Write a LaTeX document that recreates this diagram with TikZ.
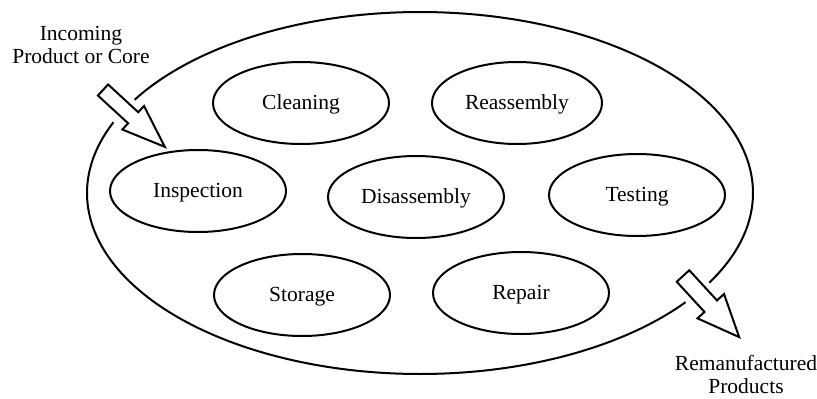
\documentclass[tikz,border=0pt]{standalone}
\usepackage{fontspec}
\setmainfont{Liberation Serif}
\usetikzlibrary{shapes.geometric}

\tikzset{
  stage/.style={draw, ellipse, line width=2pt, inner sep=0pt,
    minimum width=176pt, minimum height=82pt,
    text height=15pt, text depth=2pt},
  label/.style={align=center, inner sep=0pt},
  outline/.style={line width=2pt},
  flowarrow/.style={draw, line width=2pt, line join=miter, fill=white},
}

\begin{document}
\begin{tikzpicture}[x=1pt, y=-1pt,
  every node/.style={font=\fontsize{21.5}{23}\selectfont}]
  \useasboundingbox (0,0) rectangle (817,399);

  % the plant boundary, left open where the product enters and leaves
  \draw[outline] plot[domain=-149:29.7, samples=120, smooth]
    ({420+333*cos(\x)}, {193+181*sin(\x)});
  \draw[outline] plot[domain=37.1:203, samples=120, smooth]
    ({420+333*cos(\x)}, {193+181*sin(\x)});

  % remanufacturing stages
  \node[stage] (cleaning)    at (301,103) {Cleaning};
  \node[stage, minimum width=170pt] (reassembly) at (517,103) {Reassembly};
  \node[stage] (inspection)  at (198,191) {Inspection};
  \node[stage] (disassembly) at (416,197) {Disassembly};
  \node[stage] (testing)     at (637,195) {Testing};
  \node[stage] (storage)     at (302,295) {Storage};
  \node[stage] (repair)      at (521,293) {Repair};

  % block arrow into the plant
  \begin{scope}[shift={(103,90)}, rotate=-42.6]
    \draw[flowarrow] (0,-7.5) -- (41,-7.5) -- (41,-16) -- (84,0)
      -- (41,16) -- (41,7.5) -- (0,7.5) -- cycle;
  \end{scope}

  % block arrow out of the plant
  \begin{scope}[shift={(683,276)}, rotate=-47.4]
    \draw[flowarrow] (0,-8.5) -- (41,-8.5) -- (41,-18) -- (83,0)
      -- (41,18) -- (41,8.5) -- (0,8.5) -- cycle;
  \end{scope}

  % labels: the base anchor sits on the last line's baseline
  \node[label, anchor=base] (incoming) at (81,63)
    {Incoming\\Product or Core};
  \node[label, anchor=base] (products) at (746,393)
    {Remanufactured\\Products};
\end{tikzpicture}
\end{document}
